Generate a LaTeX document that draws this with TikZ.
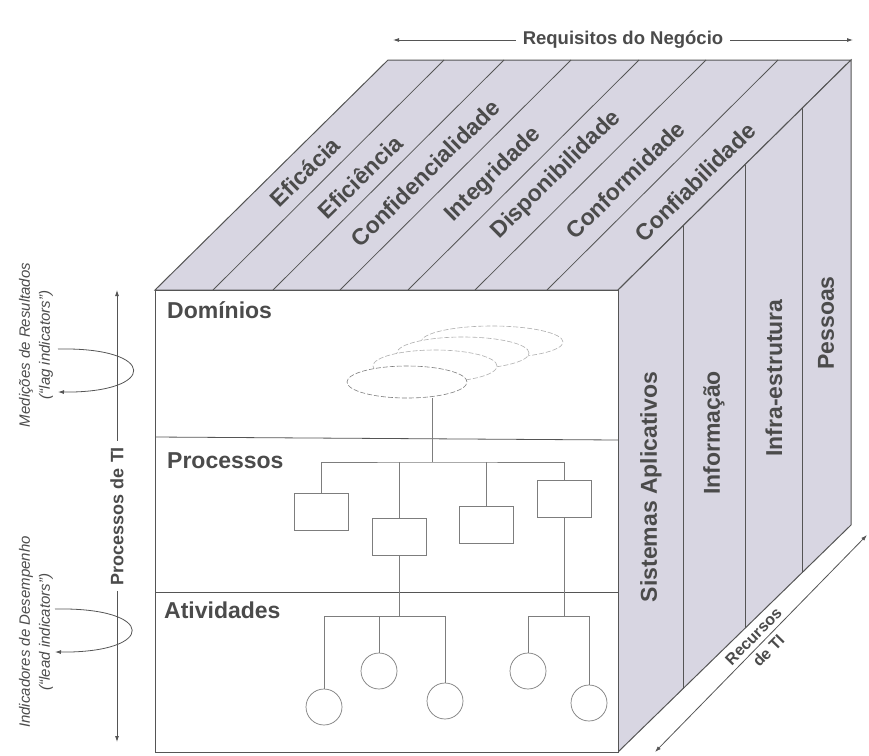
\documentclass[tikz,border=0pt]{standalone}
\usepackage{fontspec}
\setmainfont{Liberation Sans}
\usetikzlibrary{arrows.meta,calc,shapes.geometric}

\definecolor{ink}{RGB}{75,75,75}
\definecolor{edge}{RGB}{85,85,85}
\definecolor{facefill}{RGB}{216,214,226}
\definecolor{treeline}{RGB}{125,125,125}
\definecolor{ghost}{RGB}{175,175,175}

\begin{document}
\begin{tikzpicture}[x=1pt,y=-1pt,
  every node/.style={inner sep=0pt, text=ink},
  cubeedge/.style={draw=edge, line width=1pt},
  stripline/.style={draw=edge, line width=0.8pt},
  biglabel/.style={font=\fontsize{23}{25}\selectfont\bfseries},
  toplabel/.style={biglabel, rotate=44.6},
  sidelabel/.style={biglabel, rotate=90},
  layerlabel/.style={biglabel, anchor=base west},
  treeline/.style={draw=treeline, line width=0.7pt},
  procbox/.style={treeline, fill=white, minimum width=54pt, minimum height=37pt},
  activity/.style={treeline, fill=white, circle, minimum size=36pt},
  domainshape/.style={ellipse, fill=white, minimum height=32pt, dash pattern=on 5pt off 2pt, line width=0.6pt},
  dimline/.style={draw=edge, line width=0.8pt, {Latex[length=6pt,width=4pt]}-{Latex[length=6pt,width=4pt]}},
  loopline/.style={draw=edge, line width=0.8pt, -{Latex[length=6pt,width=4pt]}},
  annot/.style={font=\fontsize{15}{20}\selectfont\itshape, align=center, rotate=90},
]
\useasboundingbox (0,0) rectangle (869,755);

% cube corners
\coordinate (FTL) at (155,290);
\coordinate (FTR) at (618,290);
\coordinate (FBR) at (618,752);
\coordinate (FBL) at (155,752);
\coordinate (BTL) at (388,60);
\coordinate (BTR) at (851,60);
\coordinate (BBR) at (851,525);

% faces
\path[cubeedge, fill=facefill] (FTL) -- (BTL) -- (BTR) -- (FTR) -- cycle;
\path[cubeedge, fill=facefill] (FTR) -- (BTR) -- (BBR) -- (FBR) -- cycle;
\path[cubeedge, fill=white] (FTL) -- (FTR) -- (FBR) -- (FBL) -- cycle;

% strips on the top face (business requirements)
\foreach \f in {213,273,340,408,475,547}
  \draw[stripline] (\f,290) -- ++(231,-230);

% strips on the right face (IT resources)
\foreach \x in {683,745,802}
  \draw[stripline] (\x,{290-(\x-618)/233*230}) -- (\x,{752-(\x-618)/233*227});

% layer dividers on the front face
\draw[stripline] (155,437) -- (618,440);
\draw[stripline] (155,592) -- (618,592);

% top face labels
\node[toplabel] (eficacia)  at (305,172) {Eficácia};
\node[toplabel] (eficiencia) at (360,177) {Eficiência};
\node[toplabel] (confid)    at (425,173) {Confidencialidade};
\node[toplabel] (integ)     at (493,175) {Integridade};
\node[toplabel] (dispon)    at (556,175) {Disponibilidade};
\node[toplabel] (conform)   at (625,180) {Conformidade};
\node[toplabel] (confiab)   at (695,182) {Confiabilidade};

% right face labels
\node[sidelabel] (sistemas) at (651,487) {Sistemas Aplicativos};
\node[sidelabel] (informacao) at (714,433) {Informação};
\node[sidelabel] (infra) at (774,378) {Infra-estrutura};
\node[sidelabel] (pessoas) at (826,323) {Pessoas};

% front face layer names
\node[layerlabel] (dominios) at (167,318) {Domínios};
\node[layerlabel] (processos) at (167,468) {Processos};
\node[layerlabel] (atividades) at (164,618) {Atividades};

% stacked domains, back to front
\node[domainshape, draw=ghost, minimum width=142pt] (e4) at (492,342) {};
\node[domainshape, draw=ghost, minimum width=132pt] (e3) at (463,353) {};
\node[domainshape, draw=ghost, minimum width=124pt] (e2) at (435,366) {};
\node[domainshape, draw=treeline, minimum width=120pt] (e1) at (407,382) {};

% processes
\node[procbox] (b1) at (321.5,511.5) {};
\node[procbox] (b2) at (399.5,536.5) {};
\node[procbox] (b3) at (486.5,524.5) {};
\node[procbox] (b4) at (564.5,498.5) {};

% activities
\node[activity] (c1) at (324,707) {};
\node[activity] (c2) at (379,671) {};
\node[activity] (c3) at (445,701) {};
\node[activity] (c4) at (528,671) {};
\node[activity] (c5) at (589,703) {};

% hierarchy connectors
\coordinate (hub) at (432,462);
\draw[treeline] (e1.south -| hub) -- (hub);
\draw[treeline] (b1.north) |- (hub) -| (b4.north);
\draw[treeline] (b2.north) -- (b2.north |- hub);
\draw[treeline] (b3.north) -- (b3.north |- hub);

\coordinate (g1) at (399.5,616);
\coordinate (g2) at (564.5,616);
\draw[treeline] (b2.south) -- (g1);
\draw[treeline] (c1.north) |- (g1) -| (c3.north);
\draw[treeline] (c2.north) -- (c2.north |- g1);
\draw[treeline] (b4.south) -- (g2);
\draw[treeline] (c4.north) |- (g2) -| (c5.north);

% business requirements axis
\coordinate (rl) at (393,40);
\coordinate (rr) at (853,40);
\draw[dimline] (rl) -- node[fill=white, inner xsep=7pt, inner ysep=2pt, font=\fontsize{18.5}{20}\selectfont\bfseries] (reqlabel) {Requisitos do Negócio} (rr);

% IT processes axis
\coordinate (pt) at (117,290);
\coordinate (pb) at (117,742);
\draw[dimline] (pt) -- node[fill=white, inner xsep=6pt, inner ysep=2pt, rotate=90, font=\fontsize{18}{20}\selectfont\bfseries] (proclabel) {Processos de TI} (pb);

% IT resources axis
\coordinate (ra) at (655,752);
\coordinate (rb) at (867,535);
\draw[dimline] (ra) -- node[sloped, align=center, font=\fontsize{16}{21}\selectfont\bfseries] (reclabel) {Recursos\\de TI} (rb);

% indicator loops
\coordinate (m1) at (58,349);
\coordinate (m2) at (58,392);
\draw[loopline] (m1) .. controls (158,347) and (158,393) .. (m2);
\coordinate (l1) at (55,609);
\coordinate (l2) at (55,652);
\draw[loopline] (l1) .. controls (157,607) and (157,653) .. (l2);

\node[annot] (lagnote) at (36,345) {Medições de Resultados\\(“lag indicators”)};
\node[annot] (leadnote) at (36,632) {Indicadores de Desempenho\\(“lead indicators”)};
\end{tikzpicture}
\end{document}
